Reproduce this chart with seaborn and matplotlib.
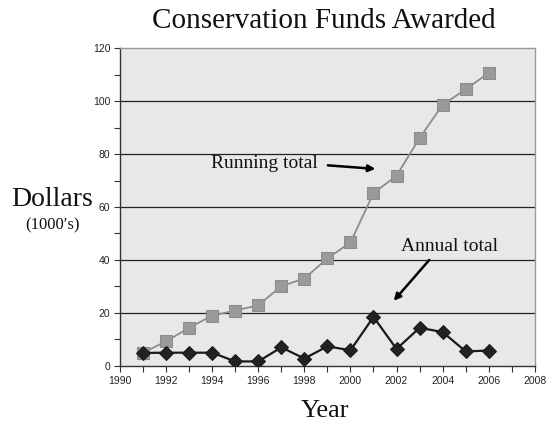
import matplotlib

matplotlib.use("Agg")
import matplotlib.pyplot as plt
import pandas as pd
import seaborn as sns
from matplotlib.ticker import MultipleLocator

years = [1991, 1992, 1993, 1994, 1995, 1996, 1997, 1998, 1999, 2000,
         2001, 2002, 2003, 2004, 2005, 2006]
running_total = [5, 9.3, 14.4, 19, 20.9, 22.9, 30.1, 33, 40.6, 46.6,
                 65.2, 71.8, 86, 98.6, 104.4, 110.6]
annual_total = [4.9, 5, 5, 5, 1.7, 1.7, 7, 2.8, 7.4, 5.9,
                18.5, 6.4, 14.4, 12.8, 5.5, 5.8]

df = pd.DataFrame({"year": years, "running": running_total, "annual": annual_total})

sns.set_style("white")
plt.rcParams["font.family"] = ["Liberation Sans", "DejaVu Sans"]

fig = plt.figure(figsize=(5.59, 4.29), dpi=100)
ax = fig.add_axes([0.2147, 0.147, 0.742, 0.741])
ax.set_facecolor("#e8e8e8")

sns.lineplot(data=df, x="year", y="running", ax=ax, color="#8c8c8c", lw=1.3,
             marker="s", markersize=9, markeredgecolor="#8c8c8c", markerfacecolor="#9a9a9a", zorder=3)
sns.lineplot(data=df, x="year", y="annual", ax=ax, color="#1a1a1a", lw=1.6,
             marker="D", markersize=7, markeredgecolor="#1a1a1a", markerfacecolor="#222222", zorder=4)

ax.set_xlim(1990, 2008)
ax.set_ylim(0, 120)
ax.xaxis.set_major_locator(MultipleLocator(2))
ax.xaxis.set_minor_locator(MultipleLocator(1))
ax.yaxis.set_major_locator(MultipleLocator(20))
ax.yaxis.set_minor_locator(MultipleLocator(10))
ax.tick_params(axis="both", which="both", direction="out", length=4, width=0.8,
               color="#333333", labelsize=7.5, labelcolor="#222222", pad=3)
ax.tick_params(axis="x", which="both", bottom=True)
ax.tick_params(axis="y", which="both", left=True)

for v in [20, 40, 60, 80, 100]:
    ax.axhline(v, color="#222222", lw=0.9, zorder=1)

for side in ["top", "right"]:
    ax.spines[side].set_color("#999999")
    ax.spines[side].set_linewidth(1.0)
for side in ["left", "bottom"]:
    ax.spines[side].set_color("#333333")
    ax.spines[side].set_linewidth(1.0)

ax.set_xlabel("")
ax.set_ylabel("")

serif = ["Liberation Serif", "DejaVu Serif"]
fig.text(0.58, 0.952, "Conservation Funds Awarded", ha="center", va="center",
         fontsize=21, family=serif, color="#111111")
fig.text(0.582, 0.043, "Year", ha="center", va="center", fontsize=19,
         family=serif, color="#111111")
fig.text(0.094, 0.535, "Dollars", ha="center", va="center", fontsize=20,
         family=serif, color="#111111")
fig.text(0.094, 0.475, "(1000\u2032s)", ha="center", va="center", fontsize=12,
         family=serif, color="#111111")

ax.annotate("", xy=(2001.2, 74.3), xytext=(1998.9, 75.8),
            arrowprops=dict(arrowstyle="-|>", color="black", lw=1.8, mutation_scale=10))
ax.text(1998.6, 76.6, "Running total", ha="right", va="center", fontsize=14,
        family=serif, color="#111111")
ax.annotate("", xy=(2001.8, 23.8), xytext=(2003.5, 40.8),
            arrowprops=dict(arrowstyle="-|>", color="black", lw=1.8, mutation_scale=10))
ax.text(2004.3, 45, "Annual total", ha="center", va="center", fontsize=14,
        family=serif, color="#111111")

fig.savefig("out.png", dpi=100)
